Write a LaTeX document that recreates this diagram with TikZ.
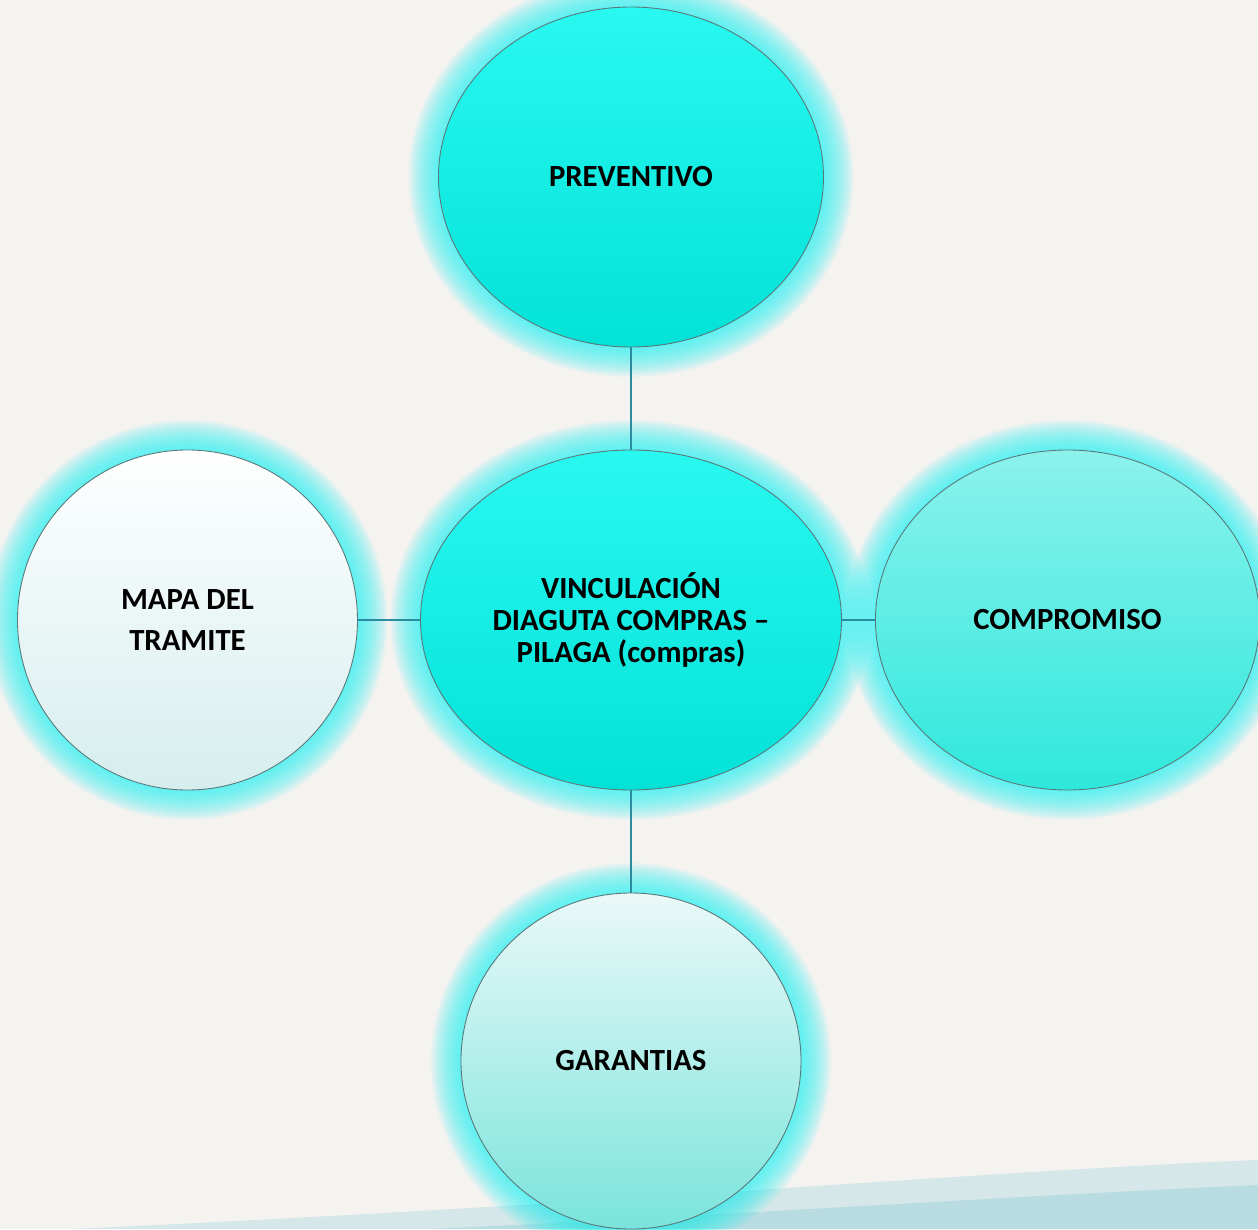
\documentclass[tikz,border=0pt]{standalone}
\usepackage{fontspec}
\setmainfont{Carlito}
\usepackage{tikz}
\usetikzlibrary{positioning,shapes.geometric,backgrounds}
\definecolor{paper}{RGB}{245, 243, 240}
\definecolor{bandcol}{RGB}{120, 196, 212}
\definecolor{halocol}{RGB}{40, 240, 240}
\definecolor{rimcol}{RGB}{90, 120, 122}
\definecolor{linkcol}{RGB}{42, 140, 158}
\definecolor{aquatop}{RGB}{40, 248, 240}
\definecolor{aquabot}{RGB}{4, 226, 216}
\definecolor{pale}{RGB}{214, 238, 238}
\definecolor{mintop}{RGB}{140, 242, 236}
\definecolor{minbot}{RGB}{46, 232, 220}
\definecolor{icetop}{RGB}{234, 249, 248}
\definecolor{icebot}{RGB}{122, 228, 220}
\tikzset{
  bubble/.style={
    ellipse,
    draw=rimcol,
    line width=0.5pt,
    inner sep=0pt,
    outer sep=0pt,
    align=center,
    font=\fontsize{17.5}{18.4}\selectfont\bfseries
  },
  link/.style={
    draw=linkcol,
    line width=1.4pt
  }
}
\newcommand{\halo}[3]{%
  \foreach \k in {1,...,15}
    \fill[halocol,opacity=0.075] (#1.center) ellipse [x radius=#2cm+\k*0.04cm, y radius=#3cm+\k*0.04cm];
}

\begin{document}
\begin{tikzpicture}
\useasboundingbox (-12.62,12.4) rectangle (12.54,-12.18);
\node[bubble,minimum width=8.42cm,minimum height=6.8cm,top color=aquatop,bottom color=aquabot] (hub) at (0,0) {VINCULACIÓN\\DIAGUTA COMPRAS –\\PILAGA (compras)};
\node[bubble,above=2.06cm of hub,minimum width=7.7cm,minimum height=6.8cm,top color=aquatop,bottom color=aquabot] (prev) {PREVENTIVO};
\node[bubble,left=1.26cm of hub,minimum width=6.8cm,minimum height=6.8cm,top color=white,bottom color=pale] (mapa) {MAPA DEL\\[4.5pt]TRAMITE};
\node[bubble,right=0.68cm of hub,minimum width=7.68cm,minimum height=6.8cm,top color=mintop,bottom color=minbot] (comp) {COMPROMISO};
\node[bubble,below=2.06cm of hub,minimum width=6.8cm,minimum height=6.72cm,top color=icetop,bottom color=icebot] (gar) {GARANTIAS};

\draw[link] (prev.south) -- (hub.north);
\draw[link] (mapa.east) -- (hub.west);
\draw[link] (hub.east) -- (comp.west);
\draw[link] (hub.south) -- (gar.north);

\begin{scope}[on background layer]
  \fill[paper] (-12.62,12.4) rectangle (12.54,-12.18);
  % brushed strip along the bottom
  \fill[bandcol,opacity=0.25] (-11.2,-12.18) .. controls (-0.6,-11.7) and (7.4,-11) .. (12.54,-10.8) -- (12.54,-12.18) -- cycle;
  \fill[bandcol,opacity=0.3] (-4,-12.18) .. controls (2,-11.9) and (8,-11.5) .. (12.54,-11.3) -- (12.54,-12.18) -- cycle;
  \halo{hub}{4.21}{3.4}
  \halo{prev}{3.85}{3.4}
  \halo{mapa}{3.4}{3.4}
  \halo{comp}{3.84}{3.4}
  \halo{gar}{3.4}{3.36}
\end{scope}
\end{tikzpicture}
\end{document}
